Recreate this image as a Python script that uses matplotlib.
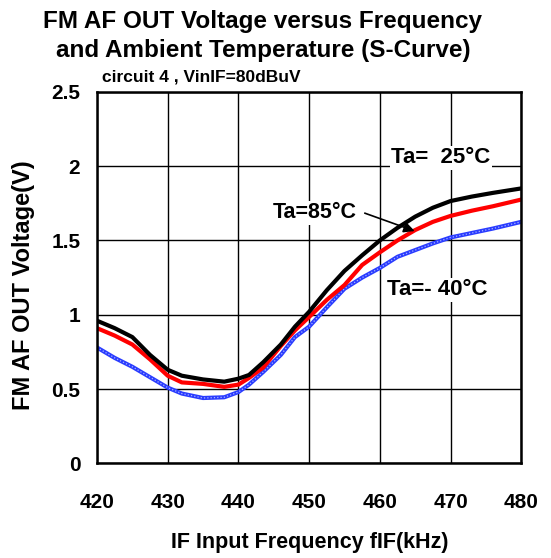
import numpy as np
import matplotlib.pyplot as plt

plt.rcParams['font.family'] = ['Liberation Sans', 'DejaVu Sans']
plt.rcParams['font.weight'] = 'bold'

freq = [420, 422.5, 425, 427.5, 430, 432, 435, 438, 440, 441.5, 443.5, 446, 448,
        450, 452.5, 455, 457.5, 460, 462.5, 465, 467.5, 470, 473, 476, 480]
v_25 = [0.96, 0.91, 0.85, 0.73, 0.63, 0.59, 0.565, 0.55, 0.57, 0.595, 0.68, 0.80, 0.92,
        1.02, 1.165, 1.295, 1.40, 1.50, 1.585, 1.66, 1.72, 1.765, 1.795, 1.82, 1.85]
v_85 = [0.91, 0.86, 0.80, 0.70, 0.59, 0.545, 0.535, 0.515, 0.53, 0.575, 0.645, 0.79, 0.895,
        0.985, 1.10, 1.20, 1.335, 1.42, 1.50, 1.57, 1.625, 1.665, 1.70, 1.73, 1.775]
v_m40 = [0.78, 0.71, 0.65, 0.58, 0.51, 0.47, 0.44, 0.445, 0.48, 0.53, 0.615, 0.73, 0.85,
         0.92, 1.05, 1.175, 1.25, 1.315, 1.39, 1.435, 1.48, 1.52, 1.55, 1.58, 1.625]

xticks = [420, 430, 440, 450, 460, 470, 480]
yticks = [0, 0.5, 1, 1.5, 2, 2.5]
ytick_labels = ['0', '0.5', '1', '1.5', '2', '2.5']

fig = plt.figure(figsize=(5.51, 5.58), dpi=100)
ax = fig.add_axes([0.176, 0.1695, 0.77, 0.666])

ax.plot(freq, v_m40, color='#2a3cff', lw=3.0, zorder=3)
ax.plot(freq, v_m40, color='#a8b4ff', lw=0.9, ls=':', zorder=3)
ax.plot(freq, v_85, color='#ff0000', lw=3.0, zorder=4)
ax.plot(freq, v_25, color='black', lw=3.0, zorder=5)

ax.set_xlim(420, 480)
ax.set_ylim(0, 2.5)
ax.set_xticks(xticks)
ax.set_yticks(yticks)
ax.set_yticklabels(ytick_labels)
ax.tick_params(length=0, labelsize=15)
ax.tick_params(axis='y', pad=12)
ax.tick_params(axis='x', pad=21)
ax.grid(True, color='black', lw=1.0)
for s in ax.spines.values():
    s.set_linewidth(1.8)
    s.set_zorder(6)

fig.text(0.562, 0.028, 'IF Input Frequency fIF(kHz)', ha='center', va='center',
         fontsize=15.5, fontweight='bold')
fig.text(0.043, 0.489, 'FM AF OUT Voltage(V)', ha='center', va='center', rotation=90,
         fontsize=17, fontweight='bold')

fig.text(0.477, 0.962, 'FM AF OUT Voltage versus Frequency', ha='center', va='center',
         fontsize=17.5, fontweight='bold')
fig.text(0.477, 0.91, 'and Ambient Temperature (S-Curve)', ha='center', va='center',
         fontsize=17.5, fontweight='bold')
fig.text(0.185, 0.862, 'circuit 4 , VinIF=80dBuV', ha='left', va='center',
         fontsize=12.5, fontweight='bold')

box = dict(facecolor='white', edgecolor='none', pad=1)
ax.text(461.6, 2.055, 'Ta=  25°C', fontsize=16, fontweight='bold', va='center', ha='left',
        bbox=box, zorder=7)
ax.text(444.8, 1.685, 'Ta=85°C', fontsize=15.5, fontweight='bold', va='center', ha='left',
        bbox=box, zorder=7)
ax.text(461.0, 1.167, 'Ta=- 40°C', fontsize=16, fontweight='bold', va='center', ha='left',
        bbox=box, zorder=7)
ax.annotate('', xy=(465.3, 1.557), xytext=(457.5, 1.69),
            arrowprops=dict(arrowstyle='-|>', color='black', lw=1.2, mutation_scale=16),
            zorder=8)

fig.savefig('out.png', dpi=100)
